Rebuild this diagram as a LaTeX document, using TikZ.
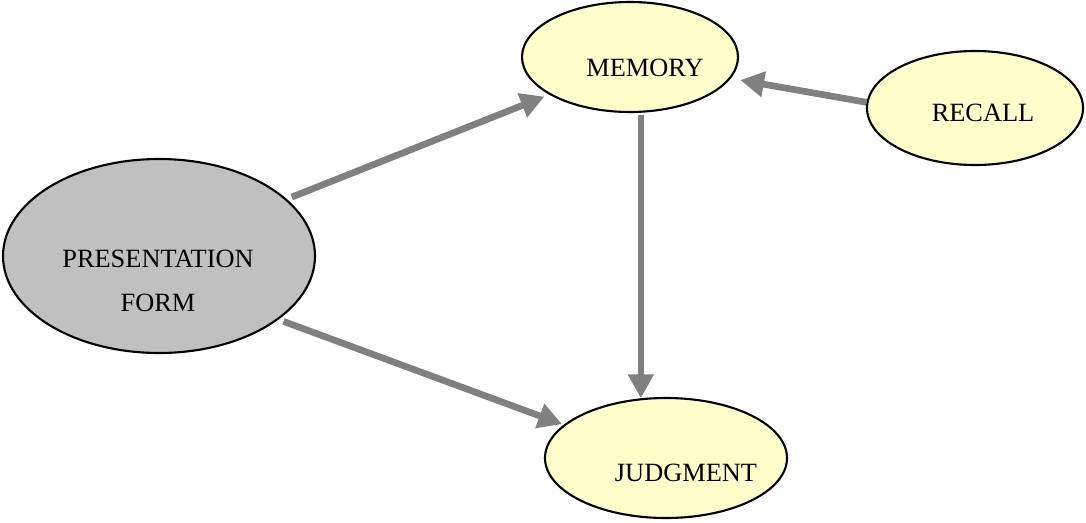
\documentclass[tikz,border=0pt]{standalone}
\usepackage{fontspec}
\setmainfont{Liberation Serif}
\usetikzlibrary{positioning,arrows.meta,shapes.geometric,calc}
\definecolor{paleyellow}{HTML}{FFFFCC}
\definecolor{formgrey}{HTML}{C0C0C0}
\definecolor{linkgrey}{HTML}{808080}

\begin{document}
\begin{tikzpicture}[>={Triangle[length=13.5pt,width=14pt]},
  every node/.style={font=\fontsize{15}{25}\selectfont},
  blob/.style={ellipse,draw,line width=1.2pt,inner sep=0pt},
  link/.style={linkgrey,line width=3.8pt,->,shorten <=3pt}]
\useasboundingbox (0,0) rectangle (21.72,10.44);
% the four boxes
\node[blob,fill=formgrey,minimum width=6.24cm,minimum height=3.88cm] (pres) at (3.18,5.32) {};
\node[blob,fill=paleyellow,minimum width=4.32cm,minimum height=2.2cm] (mem) at (12.6,9.3) {};
\node[blob,fill=paleyellow,minimum width=4.32cm,minimum height=2.28cm] (rec) at (19.5,8.28) {};
\node[blob,fill=paleyellow,minimum width=4.84cm,minimum height=2.4cm] (judg) at (13.32,1.28) {};
\node[align=center] (presText) at ($(pres)+(-0.02,-0.5)$) {PRESENTATION\\FORM};
\node (memText) at ($(mem)+(0.3,-0.22)$) {MEMORY};
\node (recText) at ($(rec)+(0.16,-0.1)$) {RECALL};
\node (judgText) at ($(judg)+(0.4,-0.3)$) {JUDGMENT};
% links
\draw[link,shorten >=3pt] (pres.24) -- (mem.205);
\draw[link,shorten >=1pt] (pres.-28) -- (judg.162);
\draw[link,shorten <=1pt] (mem.281) -- (mem.281 |- judg.112);
\draw[link,shorten <=0pt,shorten >=5.5pt] (rec.177) -- (mem.-12);
\end{tikzpicture}
\end{document}
